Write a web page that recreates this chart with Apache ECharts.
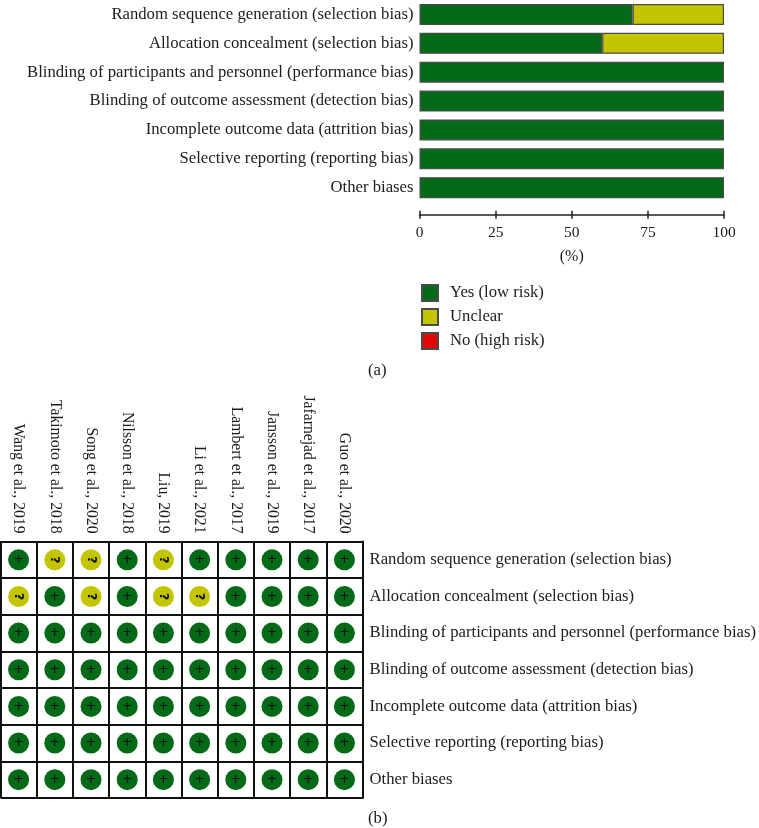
<!DOCTYPE html>
<html><head><meta charset="utf-8">
<style>html,body{margin:0;padding:0;background:#fff}#c{width:759px;height:828px}</style>
<script src="https://cdn.jsdelivr.net/npm/echarts@6/dist/echarts.min.js"></script>
</head><body><div id="c"></div>
<script>
const domains = ['Random sequence generation (selection bias)','Allocation concealment (selection bias)','Blinding of participants and personnel (performance bias)','Blinding of outcome assessment (detection bias)','Incomplete outcome data (attrition bias)','Selective reporting (reporting bias)','Other biases'];
const yesLow = [70,60,100,100,100,100,100];
const unclear = [30,40,0,0,0,0,0];
const noHigh = [0,0,0,0,0,0,0];
const percentTicks = [0,25,50,75,100];
const studies = ['Wang et al., 2019','Takimoto et al., 2018','Song et al., 2020','Nilsson et al., 2018','Liu, 2019','Li et al., 2021','Lambert et al., 2017','Jansson et al., 2019','Jafarnejad et al., 2017','Guo et al., 2020'];
const row1 = ['+','?','?','+','?','+','+','+','+','+'];
const row2 = ['?','+','?','+','?','?','+','+','+','+'];
const row3 = ['+','+','+','+','+','+','+','+','+','+'];
const row4 = ['+','+','+','+','+','+','+','+','+','+'];
const row5 = ['+','+','+','+','+','+','+','+','+','+'];
const row6 = ['+','+','+','+','+','+','+','+','+','+'];
const row7 = ['+','+','+','+','+','+','+','+','+','+'];
const judgements = [row1,row2,row3,row4,row5,row6,row7];

const GREEN='#056a17', YELLOW='#c2c500', RED='#e30606', INK='#1c1c1c', FONT='"Liberation Serif"';
const LABEL=16.7;
const cells = mark => judgements.flatMap((r,y)=>r.flatMap((m,x)=>m===mark?[[x,y]]:[]));
const barData = vals => vals.map(v=>v===0?{value:v,itemStyle:{borderWidth:0}}:v);
const bar = (name,vals,color)=>({name,type:'bar',stack:'a',xAxisIndex:0,yAxisIndex:0,barWidth:21,data:barData(vals),
  itemStyle:{color,borderColor:'#4a4a4a',borderWidth:1.2}});
const dots=(name,mark,color,label)=>({name,type:'scatter',xAxisIndex:2,yAxisIndex:1,symbol:'circle',symbolSize:21,data:cells(mark),
  itemStyle:{color,opacity:1},label:Object.assign({show:true,position:'inside',formatter:mark,color:'#111',fontFamily:'"DejaVu Sans"'},label)});

const chart = echarts.init(document.getElementById('c'),null,{renderer:'canvas'});
chart.setOption({
  animation:false,backgroundColor:'#fff',
  textStyle:{fontFamily:FONT,color:INK},
  grid:[{left:419.5,width:304.5,bottom:625.85,height:204.75},{left:0.5,width:366.5,top:541.5,height:256.5}],
  xAxis:[
    {gridIndex:0,type:'value',min:0,max:100,interval:25,position:'bottom',offset:12.5,splitLine:{show:false},
     axisLine:{show:true,lineStyle:{color:'#222',width:1.5}},axisTick:{show:true,length:4,lineStyle:{color:'#222',width:1.5}},
     axisLabel:{margin:10,fontSize:15.5,color:INK,fontFamily:FONT,customValues:percentTicks},
     name:'(%)',nameLocation:'middle',nameGap:34,nameTextStyle:{fontSize:16,color:INK,fontFamily:FONT}},
    {gridIndex:0,type:'value',min:0,max:100,interval:25,position:'bottom',offset:12.5,splitLine:{show:false},
     axisLine:{show:false},axisTick:{show:true,inside:true,length:4,lineStyle:{color:'#222',width:1.5}},axisLabel:{show:false}},
    {gridIndex:1,type:'category',data:studies,position:'top',boundaryGap:true,
     axisLine:{show:true,lineStyle:{color:'#111',width:2}},axisTick:{show:false},
     axisLabel:{interval:0,rotate:90,margin:8,fontSize:15.7,color:INK,fontFamily:FONT,padding:[0,0,4,0]},
     splitLine:{show:true,lineStyle:{color:'#111',width:2}}}
  ],
  yAxis:[
    {gridIndex:0,type:'category',data:domains,inverse:true,axisLine:{show:false},axisTick:{show:false},
     axisLabel:{interval:0,margin:6,fontSize:LABEL,color:INK,fontFamily:FONT}},
    {gridIndex:1,type:'category',data:domains,inverse:true,position:'right',boundaryGap:true,
     axisLine:{show:true,lineStyle:{color:'#111',width:2}},axisTick:{show:false},
     axisLabel:{interval:0,margin:7,fontSize:LABEL,color:INK,fontFamily:FONT},
     splitLine:{show:true,lineStyle:{color:'#111',width:2}}}
  ],
  legend:{data:['Yes (low risk)','Unclear','No (high risk)'],icon:'rect',orient:'vertical',left:421,top:284,padding:0,itemWidth:16,itemHeight:16,itemGap:6,
    textStyle:{fontSize:LABEL,color:INK,fontFamily:FONT,padding:[0,0,0,7]},selectedMode:false},
  series:[
    bar('Yes (low risk)',yesLow,GREEN),
    bar('Unclear',unclear,YELLOW),
    bar('No (high risk)',noHigh,RED),
    dots('Low risk cell','+',GREEN,{fontSize:13}),
    dots('Unclear cell','?',YELLOW,{fontSize:13,fontWeight:'bold',rotate:-90})
  ],
  graphic:[
    {type:'text',left:368,top:362,style:{text:'(a)',fontSize:LABEL,fontFamily:FONT,fill:INK}},
    {type:'text',left:368,top:810,style:{text:'(b)',fontSize:LABEL,fontFamily:FONT,fill:INK}}
  ]
});
</script></body></html>
